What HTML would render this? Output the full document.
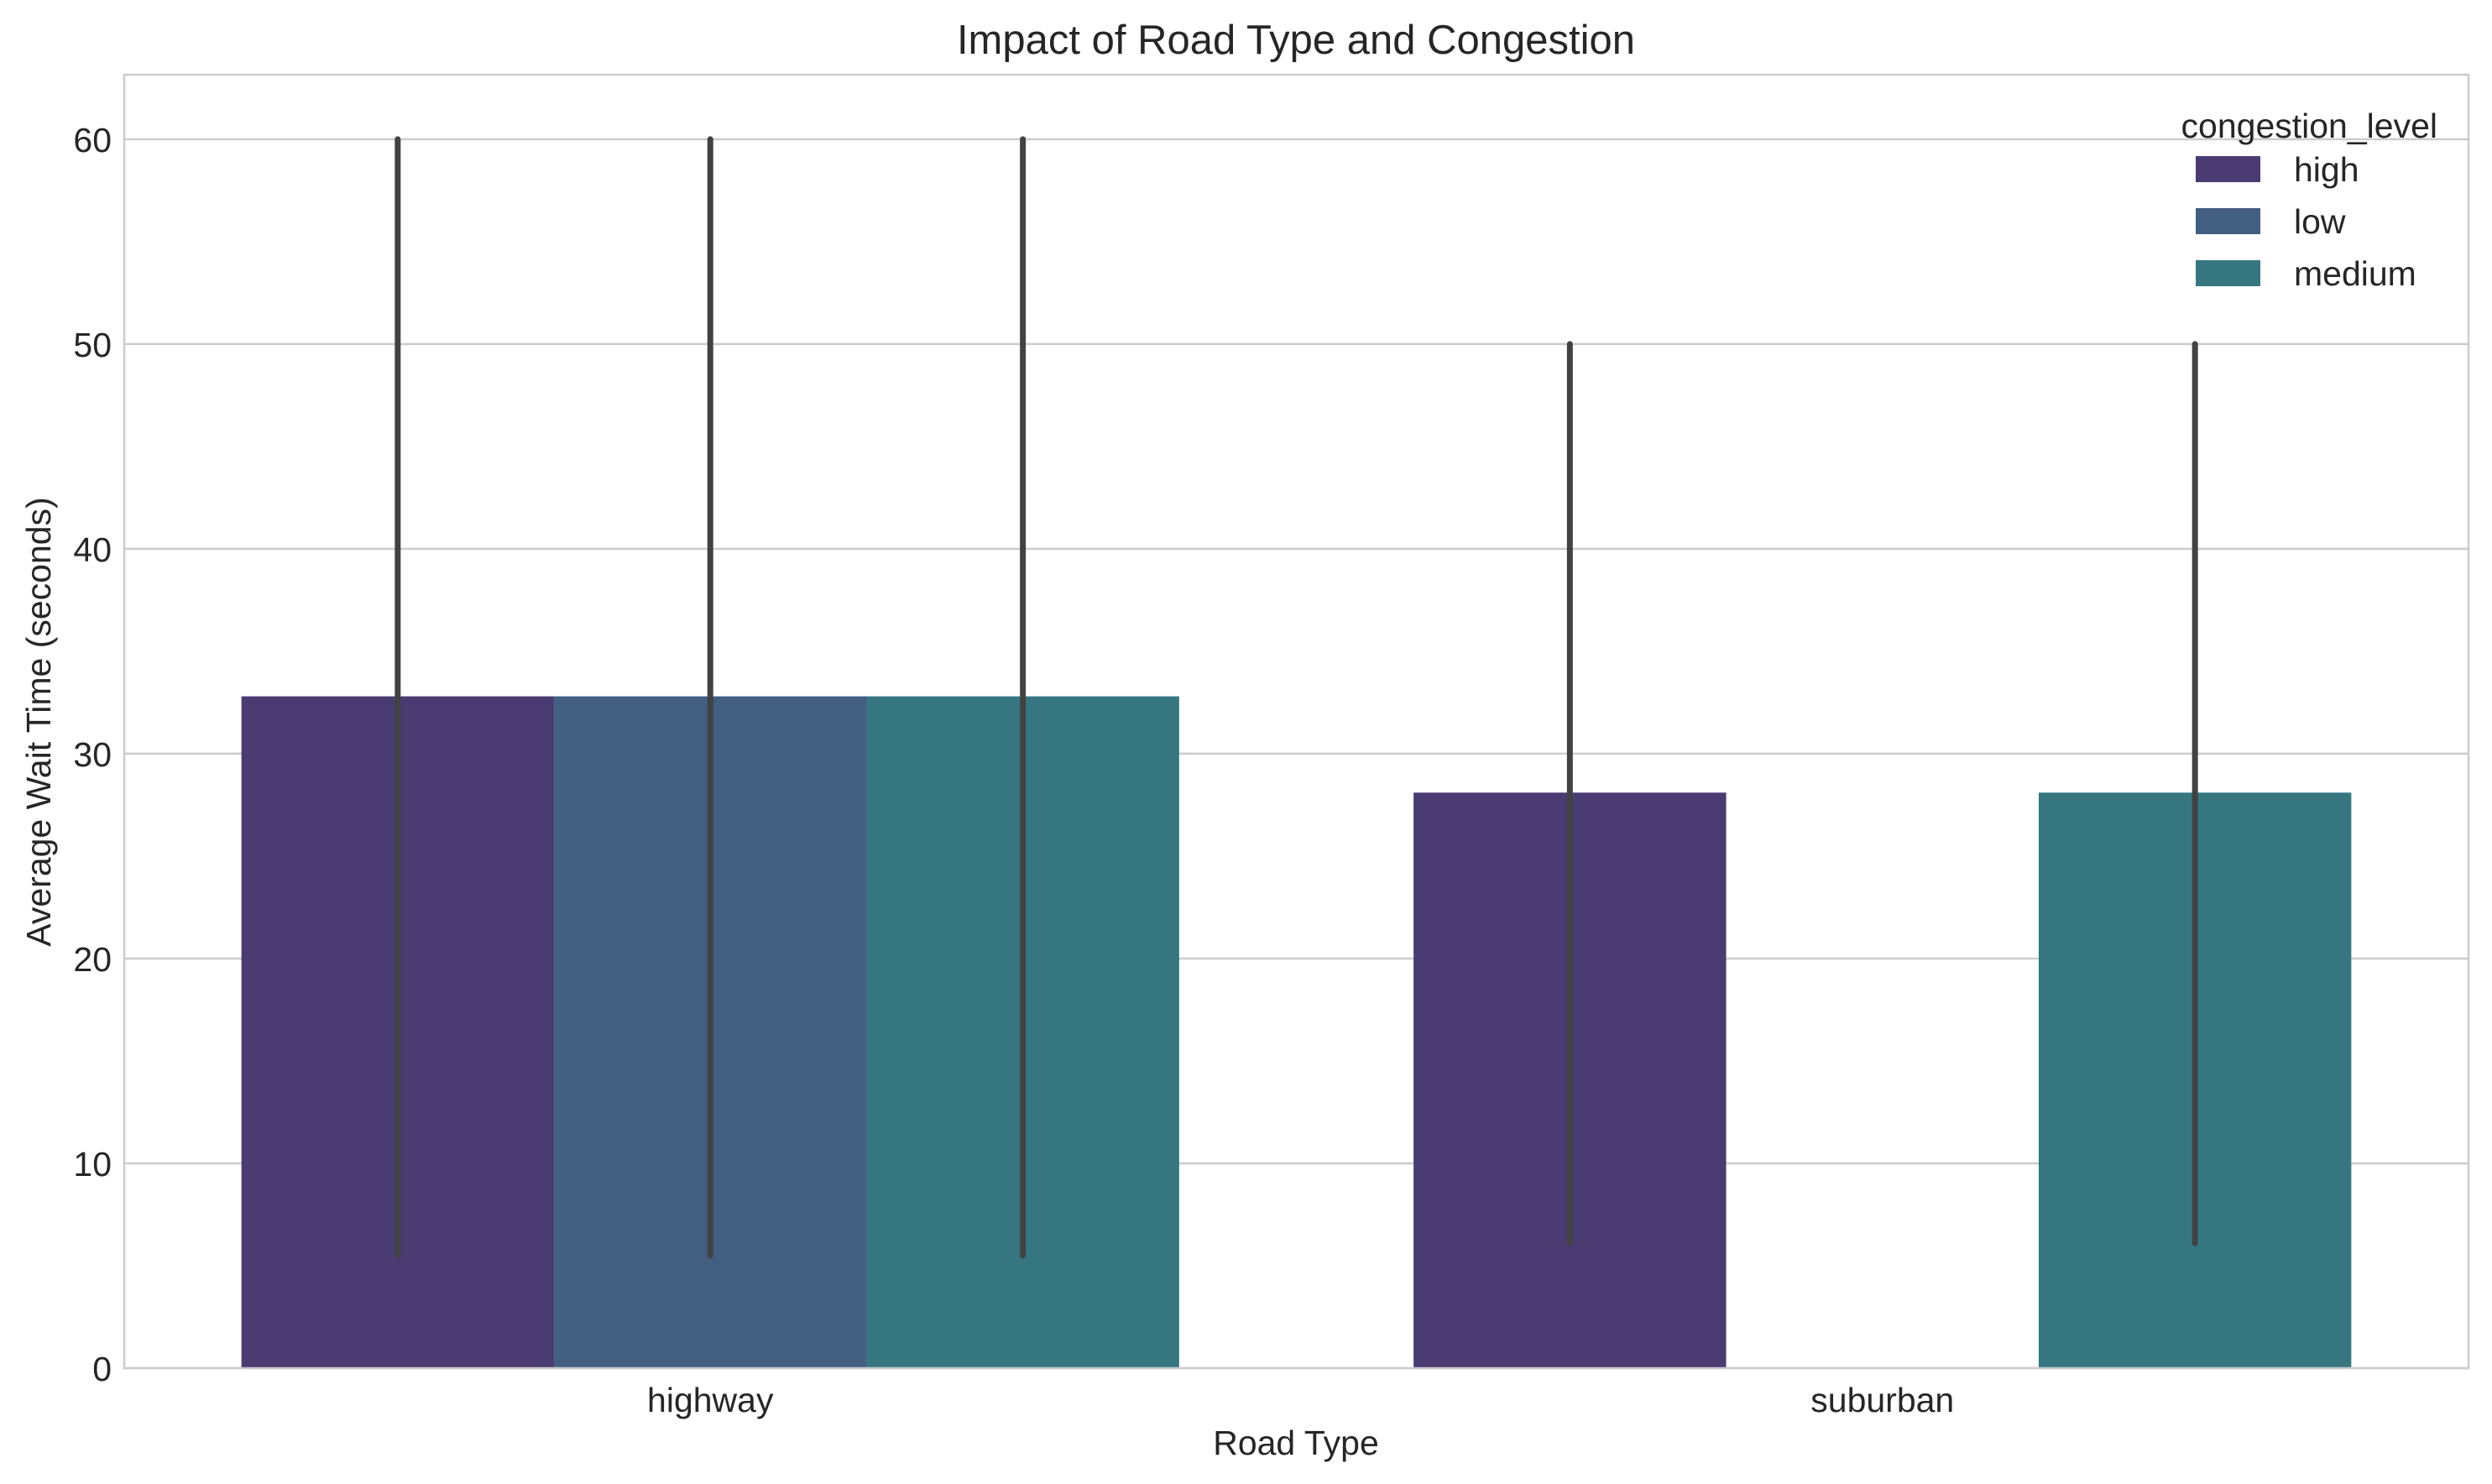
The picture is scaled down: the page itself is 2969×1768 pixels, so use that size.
<!DOCTYPE html>
<html><head><meta charset="utf-8"><style>
html,body{margin:0;padding:0;background:#fff;}
svg{display:block;font-family:"Liberation Sans",Arial,sans-serif;}
</style></head><body>
<svg id="chart" width="2969" height="1768" viewBox="0 0 2969 1768" xmlns="http://www.w3.org/2000/svg">
<rect width="2969" height="1768" fill="#fff"/>
<g id="grid"></g>
<g id="bars"></g>
<g id="errs"></g>
<rect x="148" y="89" width="2793" height="1541" fill="none" stroke="#cccccc" stroke-width="2.5"/>
<g id="yticks" font-size="41" fill="#262626" text-anchor="end"></g>
<g id="xticks" font-size="41" fill="#262626" text-anchor="middle"></g>
<text x="1544" y="64" font-size="49" fill="#262626" text-anchor="middle">Impact of Road Type and Congestion</text>
<text x="1544" y="1733" font-size="41" fill="#262626" text-anchor="middle">Road Type</text>
<text x="0" y="0" font-size="41" fill="#262626" text-anchor="middle" transform="translate(60,860) rotate(-90)">Average Wait Time (seconds)</text>
<g id="legend" font-size="41" fill="#262626">
<text x="2904" y="164" text-anchor="end">congestion_level</text>
</g>
</svg>
<script>
const categories = ["highway", "suburban"];
const hues = ["high", "low", "medium"];
const valHigh = [32.8, 28.1];
const valLow = [32.8, null];
const valMedium = [32.8, 28.1];
const errLowHigh = [5.5, 6.1];
const errHighHigh = [60, 50];
const errLowLow = [5.5, null];
const errHighLow = [60, null];
const errLowMedium = [5.5, 6.1];
const errHighMedium = [60, 50];
const yTicks = [0, 10, 20, 30, 40, 50, 60];
const colors = ["#4a3b73", "#425e80", "#357681"];

const NS = "http://www.w3.org/2000/svg";
const X0 = 148, X1 = 2941, Y0 = 1630, Y1 = 89, YMAX = 63.15;
function yScale(v){ return Y0 - (v / YMAX) * (Y0 - Y1); }
const catW = (X1 - X0) / categories.length;
function xCenter(i){ return X0 + catW * (i + 0.5); }
const barW = catW * 0.8 / hues.length;
function barX(i, h){ return xCenter(i) - catW * 0.4 + h * barW; }
function mk(tag, attrs, parent){ const e = document.createElementNS(NS, tag); for (const k in attrs) e.setAttribute(k, attrs[k]); parent.appendChild(e); return e; }

const grid = document.getElementById('grid');
const yt = document.getElementById('yticks');
yTicks.forEach(t => {
  const y = yScale(t);
  const l = mk('line', {x1: X0, x2: X1, y1: y, y2: y, stroke: '#cccccc', 'stroke-width': 2.5}, grid);
  
  
  const tx = mk('text', {x: 133, y: y + 15}, yt);
  tx.textContent = t;
  
  
});
const xt = document.getElementById('xticks');
categories.forEach((c, i) => {
  const tx = mk('text', {x: xCenter(i), y: 1682}, xt);
  tx.textContent = c;
  
  
});
const series = [valHigh, valLow, valMedium];
const eLo = [errLowHigh, errLowLow, errLowMedium];
const eHi = [errHighHigh, errHighLow, errHighMedium];
const bars = document.getElementById('bars');
const errs = document.getElementById('errs');
categories.forEach((c, i) => {
  hues.forEach((h, k) => {
    const v = series[k][i];
    if (v === null) return;
    const x = barX(i, k);
    const r = mk('rect', {x: x, y: yScale(v), width: barW, height: Y0 - yScale(v), fill: colors[k]}, bars);
    
    
    if (eLo[k][i] !== null) {
      const el = mk('line', {x1: x + barW / 2, x2: x + barW / 2, y1: yScale(eLo[k][i]), y2: yScale(eHi[k][i]), stroke: '#424242', 'stroke-width': 7, 'stroke-linecap': 'round'}, errs);
      
      
    }
  });
});
const lg = document.getElementById('legend');
hues.forEach((h, k) => {
  const cy = 202 + k * 62;
  const r = mk('rect', {x: 2616, y: cy - 16, width: 77, height: 31, fill: colors[k]}, lg);
  
  
  const t = mk('text', {x: 2733, y: cy + 14}, lg);
  t.textContent = h;
  
  
});
</script>
</body></html>
